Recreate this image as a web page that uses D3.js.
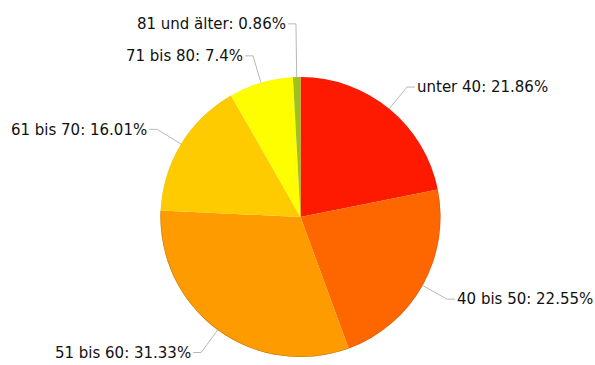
<!DOCTYPE html>
<html lang="de">
<head>
    <meta charset="UTF-8">
    <script src="https://d3js.org/d3.v7.min.js"></script>
    <style>
        body { margin: 0; background: #fff; }
        text { font-family: "DejaVu Sans", Verdana, sans-serif; }
    </style>
</head>
<body>
    <svg id="chart" width="595" height="365"></svg>
    <script>
        const categories = ["unter 40", "40 bis 50", "51 bis 60", "61 bis 70", "71 bis 80", "81 und älter"];
        const shares = [21.86, 22.55, 31.33, 16.01, 7.4, 0.86];
        const colors = ["#fe1a00", "#fe6600", "#fe9b00", "#fecb00", "#fefe00", "#9dc21a"];

        const data = categories.map((c, i) => ({ name: c, value: shares[i], color: colors[i] }));

        const width = 595, height = 365;
        const cx = 300.5, cy = 217, radius = 140;

        const svg = d3.select("#chart");
        const g = svg.append("g").attr("transform", `translate(${cx},${cy})`);

        const pie = d3.pie().sort(null).value(d => d.value);
        const arcs = pie(data);
        const arc = d3.arc().innerRadius(0).outerRadius(radius);
        const edgeArc = d3.arc().innerRadius(radius - 0.5).outerRadius(radius);

        g.selectAll(".slice")
            .data(arcs)
            .enter().append("path")
            .attr("class", "slice")
            .attr("d", arc)
            .attr("fill", d => d.data.color);

        // dunkler Rand unten (leichter 3D-Effekt)
        g.selectAll(".edge")
            .data(arcs)
            .enter().append("path")
            .attr("class", "edge")
            .attr("d", edgeArc)
            .attr("fill", d => d3.color(d.data.color).darker(1.2))
            .attr("opacity", d => {
                const mid = (d.startAngle + d.endAngle) / 2;
                return Math.max(0.15, -Math.cos(mid) * 0.9);
            });

        // Beschriftungen
        const labelR = 168;
        const labels = arcs.map(d => {
            const mid = (d.startAngle + d.endAngle) / 2;
            const sx = Math.sin(mid), sy = -Math.cos(mid);
            return {
                d, mid,
                right: sx >= 0,
                edge: [sx * radius, sy * radius],
                elbow: [sx * labelR, sy * labelR]
            };
        });

        // Überlappung auf der linken Seite vermeiden
        const minGap = 32;
        ["left", "right"].forEach(side => {
            const list = labels.filter(l => (side === "right") === l.right)
                .sort((a, b) => b.elbow[1] - a.elbow[1]);
            for (let i = 1; i < list.length; i++) {
                const prev = list[i - 1].elbow[1];
                if (prev - list[i].elbow[1] < minGap) list[i].elbow[1] = prev - minGap;
            }
        });

        labels.forEach(l => {
            const dir = l.right ? 1 : -1;
            const endX = l.elbow[0] + dir * 8;
            g.append("polyline")
                .attr("points", [l.edge, l.elbow, [endX, l.elbow[1]]].map(p => p.join(",")).join(" "))
                .attr("fill", "none")
                .attr("stroke", "#b8b8b8")
                .attr("stroke-width", 1);

            g.append("text")
                .attr("x", endX + dir * 2)
                .attr("y", l.elbow[1])
                .attr("dy", "0.35em")
                .attr("text-anchor", l.right ? "start" : "end")
                .style("font-size", "15px")
                .attr("fill", "#111")
                .text(`${l.d.data.name}: ${l.d.data.value}%`);
        });
    </script>
</body>
</html>
